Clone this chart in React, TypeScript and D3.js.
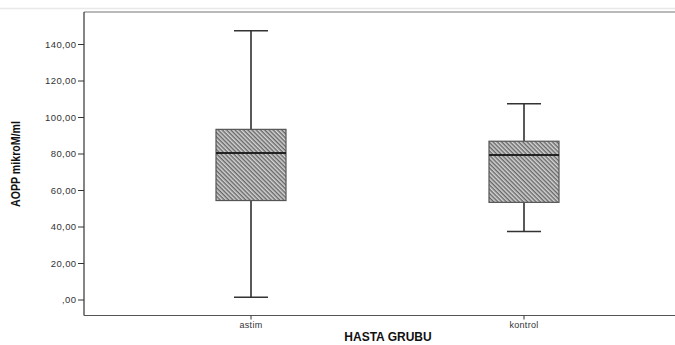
import React from "react";
import * as d3 from "d3";

const categories = ["astim", "kontrol"];
const whiskerLow = [1.5, 37.5];
const q1 = [54.5, 53.5];
const medians = [80.5, 79.5];
const q3 = [93.5, 87];
const whiskerHigh = [147.5, 107.5];
const yTicks = [0, 20, 40, 60, 80, 100, 120, 140];

const W = 675;
const H = 345;

export default function App() {
  const left = 84;
  const top = 12;
  const bottom = 315.5;
  const y = d3.scaleLinear().domain([0, 140]).range([300, 44.5]);
  const x = d3.scaleBand<string>().domain(categories).range([114.5, 660.5]).padding(0);
  const boxW = 70;
  const capW = 34;
  const fmt = (v: number) => (v === 0 ? ",00" : v.toFixed(2).replace(".", ","));
  const font = "Liberation Sans, Arial, sans-serif";
  return (
    <svg
      width={W}
      height={H}
      style={{ position: "absolute", left: 0, top: 0, background: "#fff", display: "block" }}
    >
      <defs>
        <pattern id="hatch" width="3" height="3" patternUnits="userSpaceOnUse" patternTransform="rotate(45)">
          <rect width="3" height="3" fill="#d4d4d4" />
          <line x1="0" y1="0.75" x2="3" y2="0.75" stroke="#5a5a5a" strokeWidth="1.3" />
        </pattern>
      </defs>
      <line x1={0} x2={W} y1={8.5} y2={8.5} stroke="#e8e8e8" strokeWidth={1.5} />
      {/* frame */}
      <line x1={left} x2={W} y1={top} y2={top} stroke="#777" strokeWidth={1.2} />
      <line x1={left} x2={left} y1={top} y2={bottom} stroke="#333" strokeWidth={1.2} />
      <line x1={left} x2={W} y1={bottom} y2={bottom} stroke="#555" strokeWidth={1.2} />
      {/* y ticks */}
      {yTicks.map((t) => (
        <g key={t}>
          <line x1={left - 6} x2={left} y1={y(t)} y2={y(t)} stroke="#333" strokeWidth={1} />
          <text
            x={left - 7.5}
            y={y(t)}
            dy="0.35em"
            textAnchor="end"
            fontFamily={font}
            fontSize={9.5}
            letterSpacing={0.4}
            fill="#333"
          >
            {fmt(t)}
          </text>
        </g>
      ))}
      {/* boxes */}
      {categories.map((c, i) => {
        const cx = (x(c) as number) + x.bandwidth() / 2;
        return (
          <g key={c}>
            <line x1={cx} x2={cx} y1={y(whiskerHigh[i])} y2={y(q3[i])} stroke="#222" strokeWidth={1.5} />
            <line x1={cx} x2={cx} y1={y(q1[i])} y2={y(whiskerLow[i])} stroke="#222" strokeWidth={1.5} />
            <line x1={cx - capW / 2} x2={cx + capW / 2} y1={y(whiskerHigh[i])} y2={y(whiskerHigh[i])} stroke="#333" strokeWidth={1.6} />
            <line x1={cx - capW / 2} x2={cx + capW / 2} y1={y(whiskerLow[i])} y2={y(whiskerLow[i])} stroke="#333" strokeWidth={1.6} />
            <rect
              x={cx - boxW / 2}
              y={y(q3[i])}
              width={boxW}
              height={y(q1[i]) - y(q3[i])}
              fill="url(#hatch)"
              stroke="#555"
              strokeWidth={1.2}
            />
            <line x1={cx - boxW / 2} x2={cx + boxW / 2} y1={y(medians[i])} y2={y(medians[i])} stroke="#222" strokeWidth={2} />
            <line x1={cx} x2={cx} y1={bottom} y2={bottom + 4} stroke="#333" strokeWidth={1} />
            <text x={cx} y={bottom + 12.5} textAnchor="middle" fontFamily={font} fontSize={9} letterSpacing={0.3} fill="#333">
              {c}
            </text>
          </g>
        );
      })}
      <text x={388} y={341} textAnchor="middle" fontFamily={font} fontSize={12} fontWeight="bold" fill="#111">
        HASTA GRUBU
      </text>
      <text
        transform={`translate(19.5,164) rotate(-90)`}
        textAnchor="middle"
        fontFamily={font}
        fontSize={13}
        fontWeight="bold"
        fill="#111"
        textLength={86}
        lengthAdjust="spacingAndGlyphs"
      >
        AOPP mikroM/ml
      </text>
    </svg>
  );
}
